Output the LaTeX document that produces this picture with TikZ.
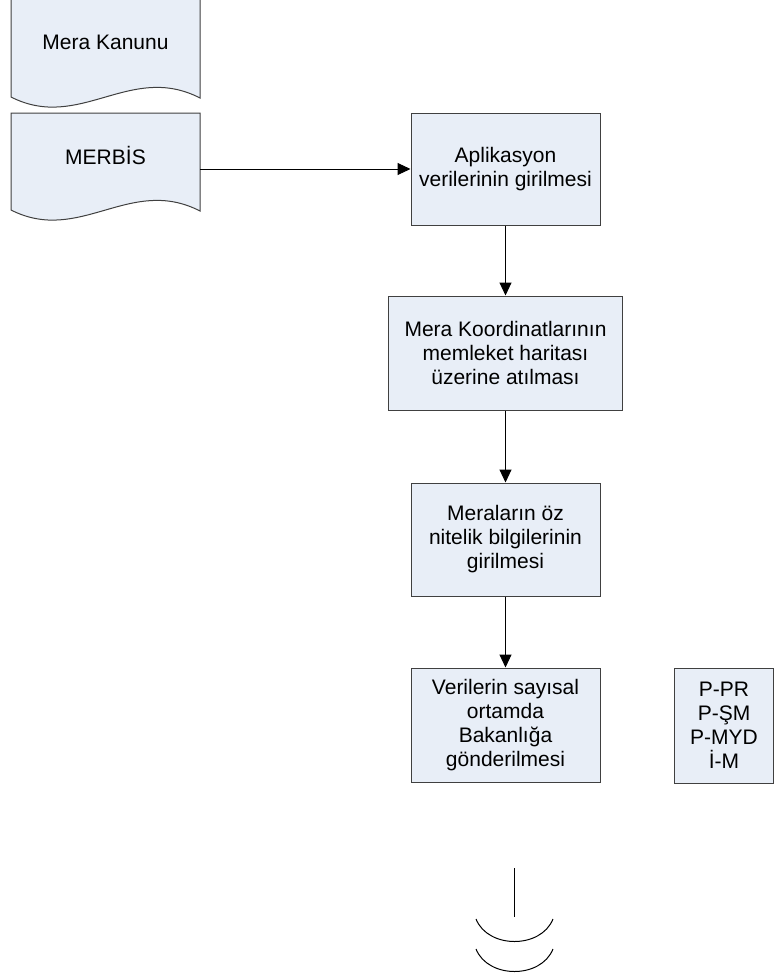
\documentclass[tikz,border=0pt]{standalone}
\usepackage{fontspec}
\setmainfont{Liberation Sans}
\usetikzlibrary{arrows.meta}
\definecolor{boxfill}{RGB}{232,238,247}
\definecolor{boxline}{RGB}{64,64,64}
\begin{document}
\begin{tikzpicture}[x=1pt,y=-1pt,
  txt/.style={font=\fontsize{21}{24}\selectfont, align=center, text=black},
  procbox/.style={txt, draw=boxline, fill=boxfill, line width=1pt, inner sep=0pt, minimum width=189pt, minimum height=113pt},
  arr/.style={draw=black, line width=1pt, -{Triangle[length=13pt,width=12pt]}},
  line/.style={draw=black, line width=1pt},
  docshape/.style={draw=boxline, fill=boxfill, line width=1pt}]
\useasboundingbox (0,0) rectangle (774,978);
% document shapes
\path[docshape] (11,-3) -- (200,-3) -- (200,98) .. controls (130,62) and (80,132) .. (11,97) -- cycle;
\path[docshape] (11,113) -- (200,113) -- (200,211) .. controls (130,175) and (80,245) .. (11,210) -- cycle;
\node[txt] (kanun) at (105.5,42) {Mera Kanunu};
\node[txt] (merbis) at (105.5,155) {MERBİS};
% process boxes
\node[procbox, minimum height=112pt] (apl) at (505.5,169) {Aplikasyon\\verilerinin girilmesi};
\node[procbox, minimum width=234pt, minimum height=114pt] (koor) at (505.5,353) {Mera Koordinatlarının\\memleket haritası\\üzerine atılması};
\node[procbox] (oz) at (505.5,539.5) {Meraların öz\\nitelik bilgilerinin\\girilmesi};
\node[procbox, minimum height=114pt] (ver) at (505.5,725) {Verilerin sayısal\\ortamda\\Bakanlığa\\gönderilmesi};
\node[procbox, minimum width=99pt, minimum height=115pt] (pbox) at (724,725.5) {P-PR\\P-ŞM\\P-MYD\\İ-M};
% connectors
\coordinate (mr) at (200,169);
\draw[arr] (mr) -- (apl.west);
\draw[arr] (apl.south) -- (koor.north);
\draw[arr] (koor.south) -- (oz.north);
\draw[arr] (oz.south) -- (ver.north);
% bottom symbol
\coordinate (st) at (514,868);
\coordinate (sb) at (514,917);
\draw[line] (st) -- (sb);
\draw[line] (476,919) .. controls (488,949) and (541,949) .. (553,919);
\draw[line] (476,949) .. controls (488,979) and (541,979) .. (553,949);
\end{tikzpicture}
\end{document}
